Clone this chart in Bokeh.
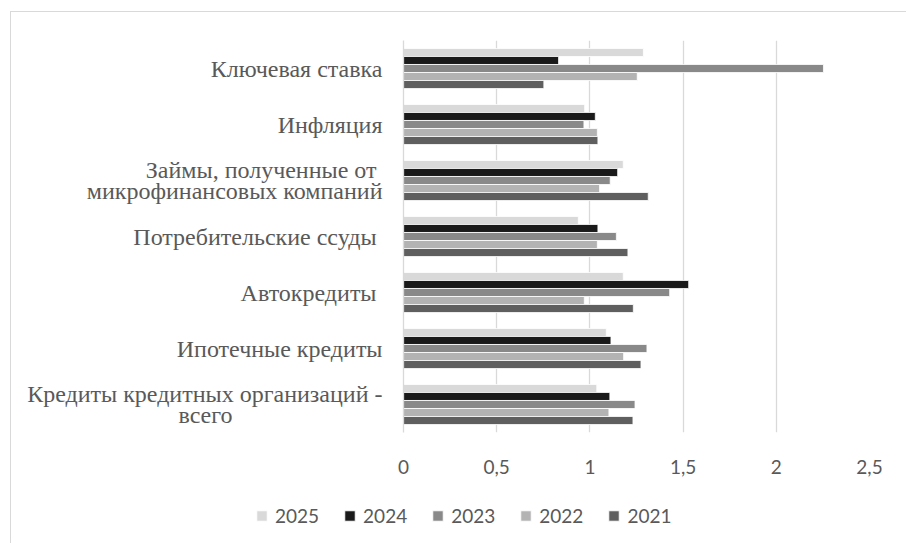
from bokeh.plotting import figure
from bokeh.layouts import column
from bokeh.models import (ColumnDataSource, FactorRange, FixedTicker, Legend, LegendItem)
from bokeh.transform import dodge
from bokeh.embed import file_html
from bokeh.resources import INLINE

# ---- data (top-to-bottom order as displayed) ----
categories = [
    "Ключевая ставка",
    "Инфляция",
    "Займы, полученные от \nмикрофинансовых компаний",
    "Потребительские ссуды ",
    "Автокредиты ",
    "Ипотечные кредиты",
    "Кредиты кредитных организаций -\nвсего" + " " * 25,
]
years = ["2025", "2024", "2023", "2022", "2021"]
v2025 = [1.287, 0.972, 1.179, 0.938, 1.179, 1.088, 1.037]
v2024 = [0.832, 1.029, 1.149, 1.043, 1.530, 1.113, 1.107]
v2023 = [2.253, 0.968, 1.109, 1.142, 1.428, 1.306, 1.242]
v2022 = [1.254, 1.040, 1.052, 1.040, 0.970, 1.181, 1.102]
v2021 = [0.753, 1.043, 1.313, 1.204, 1.233, 1.274, 1.231]
colors = ["#d9d9d9", "#1a1a1a", "#898989", "#b3b3b3", "#5f5f5f"]
tick_values = [0, 0.5, 1, 1.5, 2, 2.5]
tick_labels = ["0", "0,5", "1", "1,5", "2", "2,5"]

series = [v2025, v2024, v2023, v2022, v2021]
source = ColumnDataSource(dict(cat=categories, **{"y" + y: s for y, s in zip(years, series)}))

bar_h = 0.143
offsets = [2 * bar_h, bar_h, 0.0, -bar_h, -2 * bar_h]

W = 895
H_MAIN = 471
H_LEG = 60

p = figure(
    width=W, height=H_MAIN,
    y_range=FactorRange(factors=list(reversed(categories)), range_padding=0),
    x_range=(0, 2.5),
    output_backend="svg", toolbar_location=None,
    min_border_left=392, min_border_right=37, min_border_top=28, min_border_bottom=51,
)
p.y_range.factor_padding = 0
p.frame_align = False

for y, col, off in zip(years, colors, offsets):
    p.hbar(y=dodge("cat", off, range=p.y_range), right="y" + y, left=0,
           height=bar_h, source=source, fill_color=col,
           line_color="white", line_width=0.8)

p.outline_line_color = None
p.background_fill_color = "white"
p.border_fill_color = "white"
p.ygrid.grid_line_color = None
p.xgrid.grid_line_color = "#d9d9d9"
p.xgrid.grid_line_width = 1.3

p.xaxis.ticker = FixedTicker(ticks=tick_values)
p.xaxis.major_label_overrides = {v: l for v, l in zip(tick_values, tick_labels)}
p.xaxis.axis_line_color = None
p.xaxis.major_tick_line_color = None
p.xaxis.minor_tick_line_color = None
p.xaxis.major_label_standoff = 21
p.xaxis.major_label_text_font = "Lato"
p.xaxis.major_label_text_font_size = "19px"
p.xaxis.major_label_text_color = "#595959"

p.yaxis.axis_line_color = "#d9d9d9"
p.yaxis.axis_line_width = 1.3
p.yaxis.major_tick_line_color = None
p.yaxis.minor_tick_line_color = None
p.yaxis.major_label_standoff = 15
p.yaxis.major_label_text_font = "Liberation Serif"
p.yaxis.major_label_text_font_size = "24px"
p.yaxis.major_label_text_line_height = 0.78
p.yaxis.major_label_text_color = "#595959"

# legend-only figure: same series drawn outside its visible range
lf = figure(width=W, height=H_LEG, x_range=(10, 11), y_range=(10, 11),
            output_backend="svg", toolbar_location=None,
            min_border=0, x_axis_location=None, y_axis_location=None)
lf.frame_align = False
lf.outline_line_color = None
lf.xgrid.grid_line_color = None
lf.ygrid.grid_line_color = None
items = []
for y, col in zip(years, colors):
    r = lf.hbar(y="cat_idx", right="y" + y, left=0, height=0.1,
                source=ColumnDataSource(dict(cat_idx=list(range(len(categories))),
                                             **{"y" + y: source.data["y" + y]})),
                fill_color=col, line_color="white", line_width=0.8)
    items.append(LegendItem(label=y, renderers=[r]))

legend = Legend(
    items=items, orientation="horizontal", location=(244, 16),
    glyph_width=13, glyph_height=13,
    label_standoff=7, spacing=24, padding=0, margin=0,
    label_text_font="Lato", label_text_font_size="19px", label_text_color="#595959",
    border_line_color=None, background_fill_alpha=0,
)
lf.add_layout(legend, "center")

layout = column(p, lf, spacing=0,
                styles={"border-left": "1px solid #d9d9d9", "border-top": "1px solid #d9d9d9",
                        "margin-left": "10px", "margin-top": "11px"})

open("out.html", "w").write(file_html(layout, INLINE))
